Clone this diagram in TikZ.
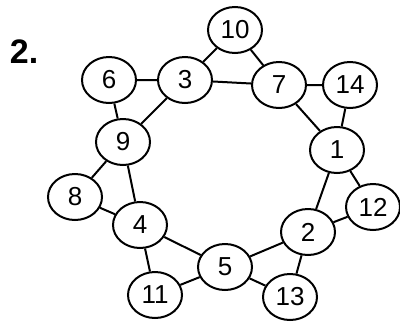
\documentclass[tikz,border=0pt]{standalone}
\usepackage{fontspec}
\setmainfont{Liberation Sans}
\usetikzlibrary{shapes.geometric}

\begin{document}
\begin{tikzpicture}[x=0.5pt,y=-0.5pt,line width=1pt]
\useasboundingbox (0,0) rectangle (400,327);
\node[anchor=base west,inner sep=0pt,font=\fontsize{17}{20}\selectfont\bfseries](lbl) at (9,63){2.};
\tikzstyle{every node}=[draw,ellipse,minimum width=27pt,minimum height=23pt,inner sep=0pt,line width=1pt,font=\fontsize{13}{15}\selectfont]
    \node(v1) at (337,150){1};
    \node(v2) at (308,232){2};
    \node(v3) at (185,80){3};
    \node(v4) at (140,225){4};
    \node(v5) at (225,267){5};
    \node(v6) at (109,80){6};
    \node(v7) at (279,85){7};
    \node(v8) at (75,197){8};
    \node(v9) at (123,142){9};
    \node(v10) at (235,30){10};
    \node(v11) at (155,295){11};
    \node(v12) at (373,207){12};
    \node(v13) at (290,297){13};
    \node(v14) at (350,85){14};
    % the ring
    \draw(v3)--(v7)--(v1)--(v2)--(v5)--(v4)--(v9)--(v3);
    % the triangles
    \draw(v3)--(v10)--(v7);
    \draw(v7)--(v14)--(v1);
    \draw(v1)--(v12)--(v2);
    \draw(v2)--(v13)--(v5);
    \draw(v5)--(v11)--(v4);
    \draw(v4)--(v8)--(v9);
    \draw(v9)--(v6)--(v3);
  \tikzstyle{every node}=[]
\end{tikzpicture}
\end{document}
